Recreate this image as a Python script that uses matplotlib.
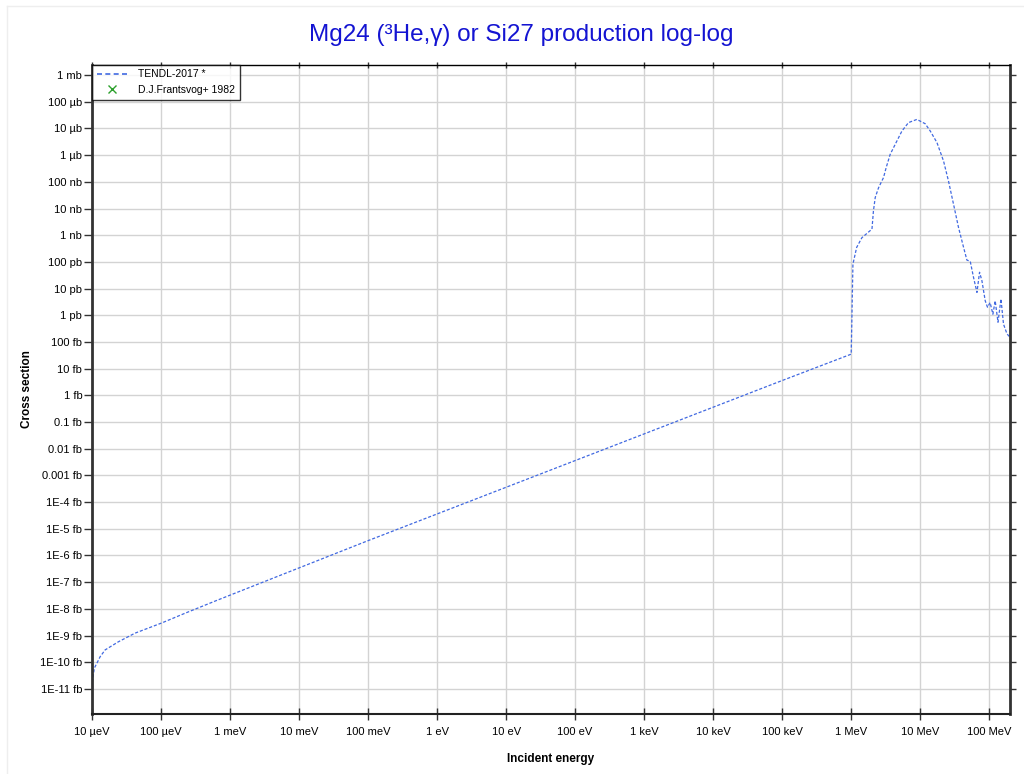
import matplotlib
matplotlib.use("Agg")
import matplotlib.pyplot as plt
from matplotlib.lines import Line2D
from matplotlib.ticker import FixedLocator, FixedFormatter, NullLocator

plt.rcParams['font.family'] = ['Liberation Sans', 'DejaVu Sans']

# TENDL-2017 curve, energy in eV, cross section in fb
tendl_energy = [1.0e-5, 1.003e-5, 1.01e-5, 1.045e-5, 1.08e-5, 1.18e-5, 1.31e-5, 1.55e-5, 2.4e-5,
                4.2e-5, 1.02e-4, 2.24e-4, 6.5e-4, 1e-1, 1e1, 1e3, 1e5, 1.0e6, 1.06e6,
                1.2e6, 1.43e6, 2.0e6, 2.1e6, 2.23e6, 2.49e6, 2.94e6, 3.21e6, 3.67e6,
                4.35e6, 5.43e6, 6.76e6, 8.95e6, 1.18e7, 1.40e7, 1.75e7, 2.18e7, 2.57e7,
                3.04e7, 3.59e7, 4.25e7, 4.75e7, 5.31e7, 5.93e7, 6.64e7, 7.24e7, 7.83e7,
                8.75e7, 9.44e7, 1.03e8, 1.13e8, 1.22e8, 1.34e8, 1.48e8, 1.61e8,
                1.81e8, 2.01e8]
tendl_xs = [1e-13, 5e-12, 1.7e-11, 3.3e-11, 6.0e-11, 9.3e-11, 1.6e-10, 2.9e-10, 5.8e-10,
            1.23e-9, 2.95e-9, 6.9e-9, 2.1e-8, 3.6e-6, 3.6e-4, 3.6e-2, 3.6, 35, 8.3e4,
            3.5e5, 8.1e5, 1.7e6, 8.1e6, 2.6e7, 6.0e7, 1.45e8, 3.4e8, 1.07e9,
            2.57e9, 8.0e9, 1.66e10, 2.19e10, 1.51e10, 8.0e9, 2.95e9, 6.0e8, 1.07e8,
            1.45e7, 1.95e6, 3.5e5, 1.17e5, 1.05e5, 2.6e4, 7.2e3, 4.1e4, 2.0e4,
            3.5e3, 2.0e3, 3.0e3, 1.1e3, 3.5e3, 550, 4.1e3, 470,
            200, 150]

# D.J.Frantsvog+ 1982 has no points inside the plotted range
exfor_energy = []
exfor_xs = []

x_ticks = [1e-5, 1e-4, 1e-3, 1e-2, 1e-1, 1, 1e1, 1e2, 1e3, 1e4, 1e5, 1e6, 1e7, 1e8]
x_tick_labels = ['10 µeV', '100 µeV', '1 meV', '10 meV', '100 meV', '1 eV', '10 eV',
                 '100 eV', '1 keV', '10 keV', '100 keV', '1 MeV', '10 MeV', '100 MeV']
y_ticks = [10.0 ** k for k in range(12, -12, -1)]
y_tick_labels = ['1 mb', '100 µb', '10 µb', '1 µb', '100 nb', '10 nb', '1 nb',
                 '100 pb', '10 pb', '1 pb', '100 fb', '10 fb', '1 fb', '0.1 fb',
                 '0.01 fb', '0.001 fb', '1E-4 fb', '1E-5 fb', '1E-6 fb', '1E-7 fb',
                 '1E-8 fb', '1E-9 fb', '1E-10 fb', '1E-11 fb']

fig = plt.figure(figsize=(10.24, 7.74), dpi=100)
ax = fig.add_axes([92 / 1024, 1 - 713.5 / 774, (1010 - 92) / 1024, (713.5 - 64.5) / 774])

ax.plot(tendl_energy, tendl_xs, color='#4169e1', lw=0.9, linestyle=(0, (2.5, 1.5)))
ax.plot(exfor_energy, exfor_xs, 'x', color='#2ca02c')
ax.set_xscale('log')
ax.set_yscale('log')
ax.set_xlim(1e-5, 2e8)
ax.set_ylim(1.2e-12, 2.5e12)

ax.xaxis.set_major_locator(FixedLocator(x_ticks))
ax.xaxis.set_major_formatter(FixedFormatter(x_tick_labels))
ax.xaxis.set_minor_locator(NullLocator())
ax.yaxis.set_major_locator(FixedLocator(y_ticks))
ax.yaxis.set_major_formatter(FixedFormatter(y_tick_labels))
ax.yaxis.set_minor_locator(NullLocator())

ax.grid(True, color='#d3d3d3', lw=1)
ax.set_axisbelow(True)
ax.tick_params(axis='x', direction='inout', length=8, width=1, labelsize=8,
               top=True, pad=6, color='#333333')
ax.tick_params(axis='y', direction='out', length=6, width=1, labelsize=8,
               right=True, pad=1, color='#333333')
for t in ax.xaxis.get_major_ticks():
    t.tick2line.set_markersize(4)
for t in ax.yaxis.get_major_ticks():
    t.tick2line.set_markersize(4)
ax.spines['left'].set_linewidth(2)
ax.spines['left'].set_color('#333333')
ax.spines['right'].set_linewidth(2)
ax.spines['right'].set_color('#333333')
ax.spines['bottom'].set_linewidth(1.5)
ax.spines['bottom'].set_color('#222222')
ax.spines['top'].set_linewidth(1)
ax.spines['top'].set_color('black')

ax.set_xlabel('Incident energy', fontsize=8.5, fontweight='bold', labelpad=11)
ax.set_ylabel('Cross section', fontsize=8.5, fontweight='bold', labelpad=5)
fig.text(521 / 1024, 1 - 35 / 774, 'Mg24 (³He,γ) or Si27 production log-log',
         ha='center', va='center', fontsize=17.5, color='#1414d2')

handles = [Line2D([], [], color='#4169e1', lw=1.2, linestyle=(0, (3, 2))),
           Line2D([], [], color='#2ca02c', marker='x', linestyle='none', markersize=6)]
leg = ax.legend(handles, ['TENDL-2017 *', 'D.J.Frantsvog+ 1982'], loc='upper left',
                bbox_to_anchor=(0, 1), fontsize=7.5, frameon=True, fancybox=False,
                borderpad=0.45, labelspacing=0.55, handlelength=3, handletextpad=1.0,
                borderaxespad=0)
leg.get_frame().set_edgecolor('black')
leg.get_frame().set_linewidth(1)

# faint frame around the whole picture
fig.add_artist(Line2D([7 / 1024, 7 / 1024], [0, 1 - 6 / 774], color='#eeeeee', lw=1))
fig.add_artist(Line2D([7 / 1024, 1], [1 - 6 / 774, 1 - 6 / 774], color='#eeeeee', lw=1))

fig.savefig('out.png', dpi=100)
